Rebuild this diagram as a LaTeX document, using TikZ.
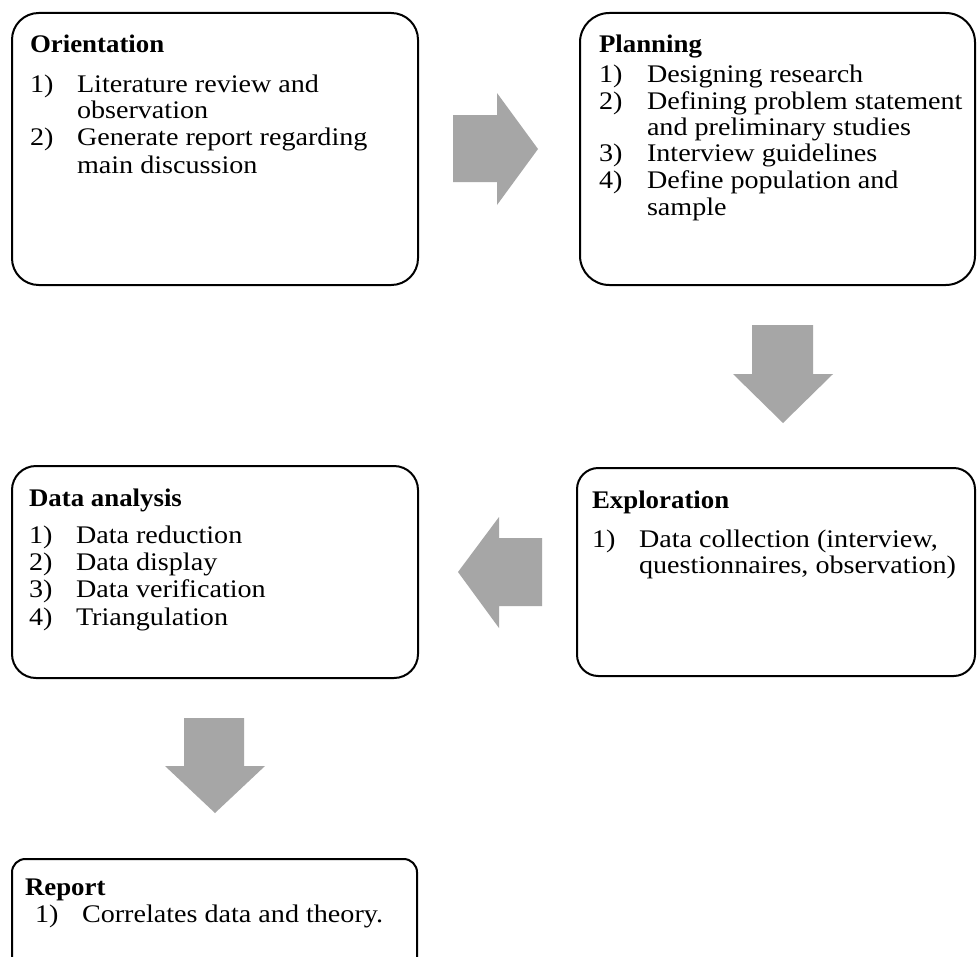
\documentclass[tikz,border=0pt]{standalone}
\usepackage{fontspec}
\setmainfont{Liberation Serif}[FakeStretch=1.11]
\newfontfamily\titlefont{Liberation Serif}[FakeStretch=1.06]
\definecolor{arrowgray}{RGB}{166,166,166}
\begin{document}
\begin{tikzpicture}[x=0.75pt,y=-0.75pt,
  stagebox/.style={draw=black,line width=1.5pt,fill=none,inner sep=0pt},
  blockarrow/.style={fill=arrowgray,draw=none},
  txt/.style={anchor=base west,inner sep=0pt,outer sep=0pt,font=\fontsize{19pt}{21pt}\selectfont},
  ttl/.style={anchor=base west,inner sep=0pt,outer sep=0pt,font=\fontsize{19pt}{21pt}\titlefont\bfseries}]
\useasboundingbox (0,0) rectangle (977,956);
\clip (0,0) rectangle (977,956);
\fill[white] (0,0) rectangle (977,956);

% boxes
\node[stagebox,rounded corners=20pt,minimum width=304.5pt,minimum height=204pt] (orient) at (215,149) {};
\node[stagebox,rounded corners=22pt,minimum width=296.25pt,minimum height=204pt] (plan) at (777.5,149) {};
\node[stagebox,rounded corners=16pt,minimum width=298.5pt,minimum height=156pt] (explo) at (776,572) {};
\node[stagebox,rounded corners=18pt,minimum width=304.5pt,minimum height=159pt] (anal) at (215,572) {};
\node[stagebox,rounded corners=10pt,minimum width=303.75pt,minimum height=105.75pt] (report) at (214.5,929.5) {};

% block arrows
\path[blockarrow] (453,115) -- (497,115) -- (497,93) -- (538,149) -- (497,205) -- (497,182) -- (453,182) -- cycle;
\path[blockarrow] (752,325) -- (813,325) -- (813,374) -- (833,374) -- (783,423) -- (733,374) -- (752,374) -- cycle;
\path[blockarrow] (542,538) -- (499,538) -- (499,517) -- (458,572) -- (499,628) -- (499,606) -- (542,606) -- cycle;
\path[blockarrow] (184,718) -- (244,718) -- (244,766) -- (265,766) -- (215,813) -- (165,766) -- (184,766) -- cycle;

% Orientation
\node[ttl] (ot) at (30,53) {Orientation};
\node[txt] (on1) at (30,92) {1)};
\node[txt] (o1a) at (77,92) {Literature review and};
\node[txt] (o1b) at (77,118) {observation};
\node[txt] (on2) at (30,145) {2)};
\node[txt] (o2a) at (77,145) {Generate report regarding};
\node[txt] (o2b) at (77,173) {main discussion};

% Planning
\node[ttl] (pt) at (599,53) {Planning};
\node[txt] (pn1) at (599,83) {1)};
\node[txt] (p1) at (647,83) {Designing research};
\node[txt] (pn2) at (599,109) {2)};
\node[txt] (p2a) at (647,109) {Defining problem statement};
\node[txt] (p2b) at (647,135) {and preliminary studies};
\node[txt] (pn3) at (599,161) {3)};
\node[txt] (p3) at (647,161) {Interview guidelines};
\node[txt] (pn4) at (599,188) {4)};
\node[txt] (p4a) at (647,188) {Define population and};
\node[txt] (p4b) at (647,215) {sample};

% Exploration
\node[ttl] (et) at (592,508) {Exploration};
\node[txt] (en1) at (592,547) {1)};
\node[txt] (e1a) at (639,547) {Data collection (interview,};
\node[txt] (e1b) at (639,573) {questionnaires, observation)};

% Data analysis
\node[ttl] (at) at (29,506) {Data analysis};
\node[txt] (an1) at (29,543) {1)};
\node[txt] (a1) at (76,543) {Data reduction};
\node[txt] (an2) at (29,570) {2)};
\node[txt] (a2) at (76,570) {Data display};
\node[txt] (an3) at (29,597) {3)};
\node[txt] (a3) at (76,597) {Data verification};
\node[txt] (an4) at (29,625) {4)};
\node[txt] (a4) at (76,625) {Triangulation};

% Report
\node[ttl] (rt) at (25,895) {Report};
\node[txt] (rn1) at (35,922) {1)};
\node[txt] (r1) at (82,922) {Correlates data and theory.};
\end{tikzpicture}
\end{document}
